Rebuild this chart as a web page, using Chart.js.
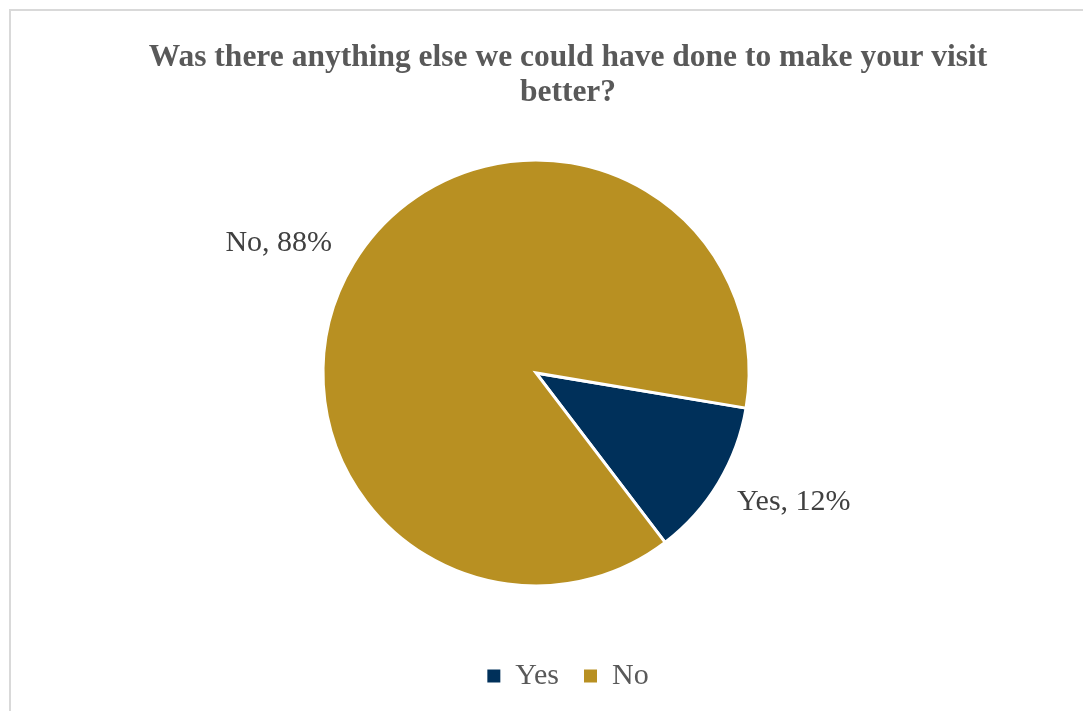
<!DOCTYPE html>
<html>
<head>
<meta charset="utf-8">
<script src="https://cdn.jsdelivr.net/npm/chart.js@4"></script>
<style>
  html, body { margin: 0; padding: 0; background: #fff; overflow: hidden; }
  .frame { position: absolute; left: 9px; top: 9px; width: 1200px; height: 800px; border: 2px solid #d9d9d9; }
  .box { position: absolute; left: 11px; top: 11px; width: 1114px; height: 700px; }
</style>
</head>
<body>
<div class="frame"></div>
<div class="box"><canvas id="pieChart"></canvas></div>
<script>
// Dữ liệu biểu đồ
var categories = ["Yes", "No"];
var values = [12, 88];
var colors = ["#00305a", "#b89022"];
var titleLines = ["Was there anything else we could have done to make your visit", "better?"];

var serif = '"Liberation Serif", "Times New Roman", serif';

// Nhãn "Yes, 12%" bên ngoài lát bánh
var sliceLabels = {
    id: "sliceLabels",
    afterDatasetsDraw: function (chart) {
        var ctx = chart.ctx;
        var meta = chart.getDatasetMeta(0);
        ctx.save();
        ctx.font = "30px " + serif;
        ctx.fillStyle = "#404040";
        ctx.textBaseline = "middle";
        meta.data.forEach(function (arc, i) {
            var p = arc.getProps(["x", "y", "startAngle", "endAngle", "outerRadius"], true);
            var mid = (p.startAngle + p.endAngle) / 2;
            var r = p.outerRadius + 38;
            var px = p.x + Math.cos(mid) * r;
            var py = p.y + Math.sin(mid) * r;
            var right = Math.cos(mid) >= 0;
            ctx.textAlign = right ? "left" : "right";
            ctx.fillText(categories[i] + ", " + values[i] + "%", px + (right ? -14 : 11), py);
        });
        ctx.restore();
    }
};

var ctx = document.getElementById("pieChart").getContext("2d");
var myChart = new Chart(ctx, {
    type: "pie",
    data: {
        labels: categories,
        datasets: [{
            data: values,
            backgroundColor: colors,
            borderColor: "#ffffff",
            borderWidth: 3,
            borderJoinStyle: "miter",
            radius: 213
        }]
    },
    options: {
        responsive: true,
        maintainAspectRatio: false,
        animation: false,
        rotation: 99.5,
        layout: { padding: { top: 0, bottom: 10, left: 0, right: 0 } },
        plugins: {
            tooltip: { enabled: false },
            title: {
                display: true,
                text: titleLines,
                color: "#595959",
                font: { family: serif, size: 31.5, weight: "bold", lineHeight: 1.11 },
                padding: { top: 29, bottom: 0 }
            },
            subtitle: {
                display: true,
                position: "right",
                text: "",
                font: { size: 1, lineHeight: 1 },
                padding: { top: 32, bottom: 31 }
            },
            legend: {
                position: "bottom",
                labels: {
                    color: "#595959",
                    font: { family: serif, size: 30 },
                    boxWidth: 13,
                    boxHeight: 13,
                    padding: 25,
                    generateLabels: function (chart) {
                        return categories.map(function (c, i) {
                            return { text: c, fillStyle: colors[i], strokeStyle: colors[i], lineWidth: 0, index: i, fontColor: "#595959" };
                        });
                    }
                }
            }
        }
    },
    plugins: [sliceLabels]
});
</script>
</body>
</html>
